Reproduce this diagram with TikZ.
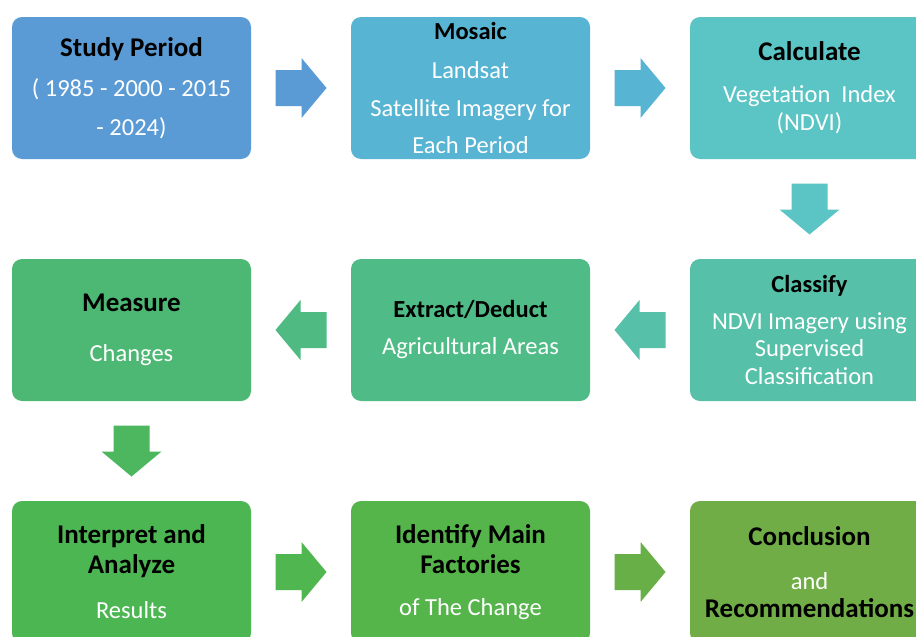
\documentclass[tikz,border=0pt]{standalone}
\usepackage{fontspec}
\setmainfont{Carlito}
\usetikzlibrary{calc}

\definecolor{studyc}{HTML}{5B9BD5}
\definecolor{mosaicc}{HTML}{57B4D2}
\definecolor{calcc}{HTML}{5BC4C4}
\definecolor{classc}{HTML}{56C0A9}
\definecolor{extractc}{HTML}{4FBC87}
\definecolor{measurec}{HTML}{4DB873}
\definecolor{interpc}{HTML}{4CB652}
\definecolor{identc}{HTML}{55B54B}
\definecolor{conclc}{HTML}{70AD47}

\newcommand{\ttl}[1]{{\color{black}\bfseries\fontsize{27}{28}\selectfont #1}}
\newcommand{\ttls}[1]{{\color{black}\bfseries\fontsize{24.5}{28}\selectfont #1}}

\tikzset{
  stepbox/.style={rounded corners=10pt, minimum width=239pt, minimum height=142pt,
    align=center, text=white, inner sep=0pt, font=\fontsize{24.5}{28}\selectfont},
  blockarrow/.pic={
    \path[pic actions] (-25.5,-18) -- (0.5,-18) -- (0.5,-30) -- (25.5,0)
      -- (0.5,30) -- (0.5,18) -- (-25.5,18) -- cycle;
  }
}

\begin{document}
\begin{tikzpicture}[x=1pt,y=1pt,yscale=-1,xscale=1]
\useasboundingbox (0,0) rectangle (916,637);
\clip (0,0) rectangle (916,637);
\fill[white] (0,0) rectangle (916,637);

%Row 1
\node[stepbox, fill=studyc] (study) at (131.5,88)
  {\ttl{Study Period}\\[12pt] ( 1985 - 2000 - 2015\\[11pt] - 2024)};
\node[stepbox, fill=mosaicc] (mosaic) at (470.5,88)
  {\ttls{Mosaic}\\[10.5pt] Landsat\\[10.5pt] Satellite Imagery for\\[9pt] Each Period};
\node[stepbox, fill=calcc] (calc) at (809.5,88)
  {\ttl{Calculate}\\[14pt] Vegetation\ \ Index\\[0pt] (NDVI)};

%Row 2
\node[stepbox, fill=classc] (classify) at (809.5,330)
  {\ttls{Classify}\\[9pt] NDVI Imagery using\\[-1pt] Supervised\\[0pt] Classification};
\node[stepbox, fill=extractc] (extract) at (470.5,330)
  {\ttls{Extract/Deduct}\\[9pt] Agricultural Areas};
\node[stepbox, fill=measurec] (measure) at (131.5,330)
  {\ttl{Measure}\\[22pt] Changes};

%Row 3
\node[stepbox, fill=interpc] (interpret) at (131.5,572)
  {\ttl{Interpret and}\\[2pt] \ttl{Analyze}\\[17pt] Results};
\node[stepbox, fill=identc] (identify) at (470.5,572)
  {\ttl{Identify Main}\\[2pt] \ttl{Factories}\\[14pt] of The Change};
\node[stepbox, fill=conclc] (concl) at (809.5,572)
  {\ttl{Conclusion}\\[16pt] and\\[0pt] \ttl{Recommendations}};

%Arrows
\pic[fill=studyc] at ($(study.east)!0.5!(mosaic.west)$) {blockarrow};
\pic[fill=mosaicc] at ($(mosaic.east)!0.5!(calc.west)$) {blockarrow};
\pic[fill=calcc, rotate=-90] at ($(calc.south)!0.5!(classify.north)$) {blockarrow};
\pic[fill=classc, rotate=180] at ($(classify.west)!0.5!(extract.east)$) {blockarrow};
\pic[fill=extractc!80!measurec, rotate=180] at ($(extract.west)!0.5!(measure.east)$) {blockarrow};
\pic[fill=measurec!40!interpc, rotate=-90] at ($(measure.south)!0.5!(interpret.north)$) {blockarrow};
\pic[fill=interpc!60!identc] at ($(interpret.east)!0.5!(identify.west)$) {blockarrow};
\pic[fill=identc!30!conclc] at ($(identify.east)!0.5!(concl.west)$) {blockarrow};

\end{tikzpicture}
\end{document}
